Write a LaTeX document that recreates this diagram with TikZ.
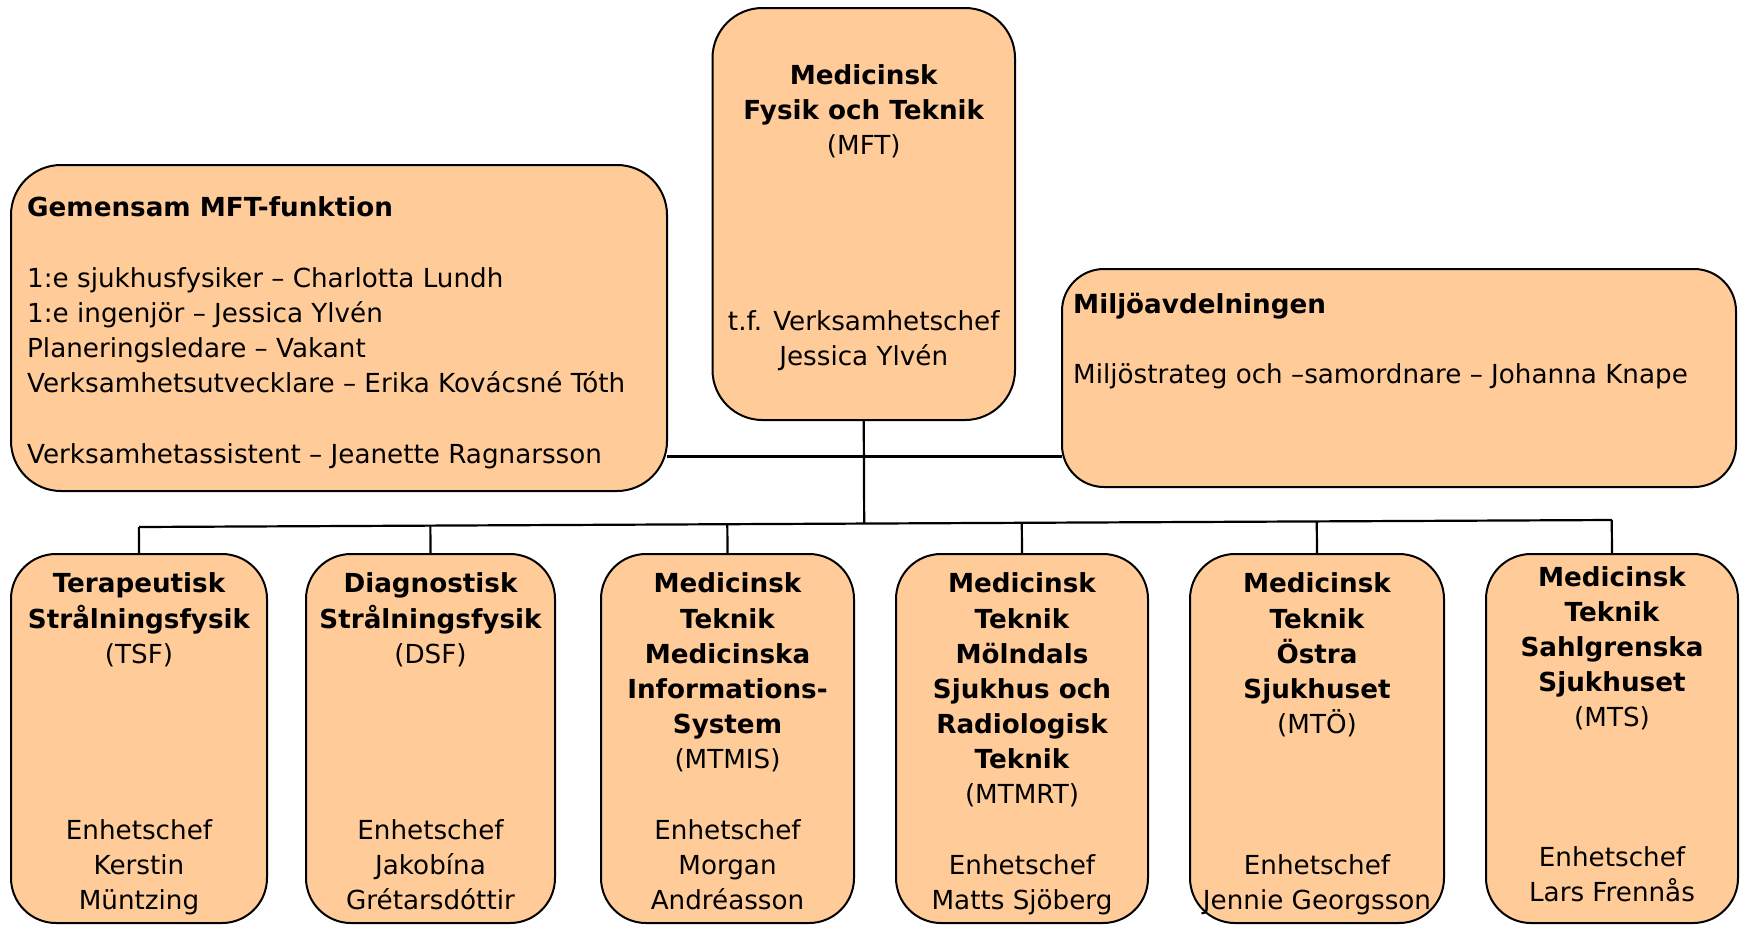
\documentclass[tikz,border=0pt]{standalone}
\usepackage{fontspec}
\setmainfont{DejaVu Sans}
\usetikzlibrary{calc}
\definecolor{peach}{HTML}{FFCC99}
\tikzset{
  box/.style={draw=black, line width=2pt, fill=peach, inner sep=0pt, outer sep=0pt},
  conn/.style={draw=black, line width=2.2pt},
  lbl/.style={anchor=base, inner sep=0pt, font=\fontsize{26.2}{35.3}\selectfont},
  lblb/.style={lbl, font=\fontsize{26.2}{35.3}\selectfont\bfseries},
  lbll/.style={lbl, anchor=base west},
  lbllb/.style={lblb, anchor=base west}
}
\begin{document}
\begin{tikzpicture}[x=1pt,y=-1pt]
\useasboundingbox (0,0) rectangle (1743,924);
\fill[white] (0,0) rectangle (1743,924);

% boxes
\node[box, rounded corners=50pt, minimum width=302.5pt, minimum height=412pt] (mft) at (863.75,214) {};
\node[box, rounded corners=50pt, minimum width=656pt, minimum height=326pt] (gem) at (339,328) {};
\node[box, rounded corners=42pt, minimum width=674pt, minimum height=218pt] (milj) at (1399,378) {};
\node[box, rounded corners=45pt, minimum width=256pt, minimum height=369pt] (b1) at (139,738.5) {};
\node[box, rounded corners=45pt, minimum width=249pt, minimum height=369pt] (b2) at (430.5,738.5) {};
\node[box, rounded corners=45pt, minimum width=253pt, minimum height=369pt] (b3) at (727.5,738.5) {};
\node[box, rounded corners=45pt, minimum width=252pt, minimum height=369pt] (b4) at (1022,738.5) {};
\node[box, rounded corners=45pt, minimum width=254pt, minimum height=369pt] (b5) at (1317,738.5) {};
\node[box, rounded corners=45pt, minimum width=252pt, minimum height=369pt] (b6) at (1612,738.5) {};

% connectors
\coordinate (bl) at (139,527);
\coordinate (br) at (1612,520);
\coordinate (jn) at (863.75,456.5);
\draw[conn] (gem.east |- jn) -- (milj.west |- jn);
\draw[conn] (mft.south) -- ($(bl)!(mft.south)!(br)$);
\draw[conn] (bl) -- (br);
\foreach \b in {b1,b2,b3,b4,b5,b6}{
  \draw[conn] (\b.north) -- ($(bl)!(\b.north)!(br)$);
}

% MFT text
\node[lblb] (m1) at (863.75,84.5) {Medicinsk};
\node[lblb] (m2) at (863.75,119.5) {Fysik och Teknik};
\node[lbl]  (m3) at (863.75,154.5) {(MFT)};
\node[lbl]  (m4) at (863.75,330) {t.f. Verksamhetschef};
\node[lbl]  (m5) at (863.75,365.5) {Jessica Ylvén};

% Gemensam text
\node[lbllb] (g1) at (27,216.5) {Gemensam MFT-funktion};
\node[lbll] (g2) at (27,287) {1:e sjukhusfysiker – Charlotta Lundh};
\node[lbll] (g3) at (27,322) {1:e ingenjör – Jessica Ylvén};
\node[lbll] (g4) at (27,357) {Planeringsledare – Vakant};
\node[lbll] (g5) at (27,392) {Verksamhetsutvecklare – Erika Kovácsné Tóth};
\node[lbll] (g6) at (27,463) {Verksamhetassistent – Jeanette Ragnarsson};

% Miljo text
\node[lbllb] (j1) at (1073,313.5) {Miljöavdelningen};
\node[lbll] (j2) at (1073,383.5) {Miljöstrateg och –samordnare – Johanna Knape};

% box 1
\node[lblb] (a1) at (139,592.7) {Terapeutisk};
\node[lblb] (a2) at (139,628) {Strålningsfysik};
\node[lbl]  (a3) at (139,663) {(TSF)};
\node[lbl]  (a4) at (139,839.3) {Enhetschef};
\node[lbl]  (a5) at (139,874.3) {Kerstin};
\node[lbl]  (a6) at (139,909.3) {Müntzing};
% box 2
\node[lblb] (c1) at (430.5,592.7) {Diagnostisk};
\node[lblb] (c2) at (430.5,628) {Strålningsfysik};
\node[lbl]  (c3) at (430.5,663) {(DSF)};
\node[lbl]  (c4) at (430.5,839.3) {Enhetschef};
\node[lbl]  (c5) at (430.5,874.3) {Jakobína};
\node[lbl]  (c6) at (430.5,909.3) {Grétarsdóttir};
% box 3
\node[lblb] (d1) at (727.5,592.7) {Medicinsk};
\node[lblb] (d2) at (727.5,628) {Teknik};
\node[lblb] (d3) at (727.5,663) {Medicinska};
\node[lblb] (d4) at (727.5,698) {Informations-};
\node[lblb] (d5) at (727.5,733.3) {System};
\node[lbl]  (d6) at (727.5,768.5) {(MTMIS)};
\node[lbl]  (d7) at (727.5,839.3) {Enhetschef};
\node[lbl]  (d8) at (727.5,874.3) {Morgan};
\node[lbl]  (d9) at (727.5,909.3) {Andréasson};
% box 4
\node[lblb] (e1) at (1022,592.7) {Medicinsk};
\node[lblb] (e2) at (1022,628) {Teknik};
\node[lblb] (e3) at (1022,663) {Mölndals};
\node[lblb] (e4) at (1022,698) {Sjukhus och};
\node[lblb] (e5) at (1022,733.3) {Radiologisk};
\node[lblb] (e6) at (1022,768.5) {Teknik};
\node[lbl]  (e7) at (1022,803.5) {(MTMRT)};
\node[lbl]  (e8) at (1022,874.3) {Enhetschef};
\node[lbl]  (e9) at (1022,909.3) {Matts Sjöberg};
% box 5
\node[lblb] (f1) at (1317,592.7) {Medicinsk};
\node[lblb] (f2) at (1317,628) {Teknik};
\node[lblb] (f3) at (1317,663) {Östra};
\node[lblb] (f4) at (1317,698) {Sjukhuset};
\node[lbl]  (f5) at (1317,733.3) {(MTÖ)};
\node[lbl]  (f6) at (1317,874.3) {Enhetschef};
\node[lbl]  (f7) at (1317,909.3) {Jennie Georgsson};
% box 6
\node[lblb] (h1) at (1612,586.5) {Medicinsk};
\node[lblb] (h2) at (1612,621.5) {Teknik};
\node[lblb] (h3) at (1612,656.5) {Sahlgrenska};
\node[lblb] (h4) at (1612,691.5) {Sjukhuset};
\node[lbl]  (h5) at (1612,726.7) {(MTS)};
\node[lbl]  (h6) at (1612,866.7) {Enhetschef};
\node[lbl]  (h7) at (1612,901.7) {Lars Frennås};
\end{tikzpicture}
\end{document}
